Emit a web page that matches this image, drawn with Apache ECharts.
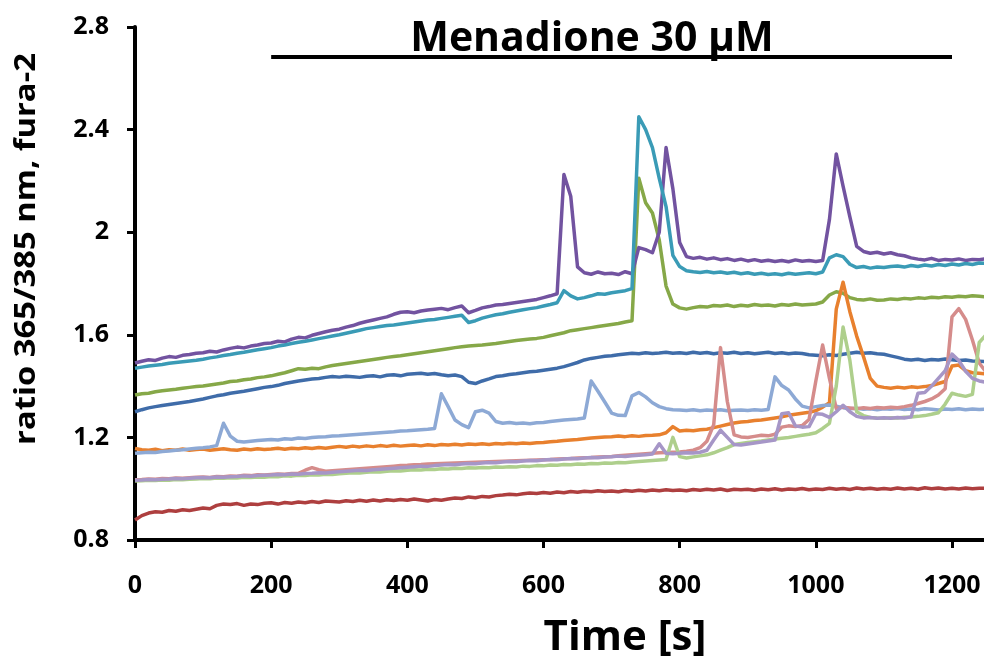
<!DOCTYPE html>
<html>
<head>
<meta charset="utf-8">
<script src="https://cdn.jsdelivr.net/npm/echarts@6/dist/echarts.min.js"></script>
<style>
html,body{margin:0;padding:0;background:#fff;}
#chart{width:984px;height:659px;}
</style>
</head>
<body>
<div id="chart"></div>
<script>
// sample times (s)
const time = [
0,10,20,30,40,50,60,70,80,90,
100,110,120,130,140,150,160,170,180,190,
200,210,220,230,240,250,260,270,280,290,
300,310,320,330,340,350,360,370,380,390,
400,410,420,430,440,450,460,470,480,490,
500,510,520,530,540,550,560,570,580,590,
600,610,620,630,640,650,660,670,680,690,
700,710,720,730,740,750,760,770,780,790,
800,810,820,830,840,850,860,870,880,890,
900,910,920,930,940,950,960,970,980,990,
1000,1010,1020,1030,1040,1050,1060,1070,1080,1090,
1100,1110,1120,1130,1140,1150,1160,1170,1180,1190,
1200,1210,1220,1230,1240,1250];

const darkBlue = [
1.300,1.308,1.315,1.320,1.324,1.328,1.332,1.336,1.340,1.345,
1.350,1.356,1.362,1.366,1.372,1.376,1.380,1.385,1.390,1.395,
1.398,1.403,1.410,1.415,1.420,1.424,1.428,1.430,1.434,1.437,
1.435,1.438,1.436,1.434,1.438,1.440,1.436,1.442,1.444,1.440,
1.446,1.448,1.450,1.446,1.449,1.444,1.440,1.443,1.437,1.415,
1.410,1.420,1.428,1.437,1.440,1.445,1.448,1.452,1.456,1.458,
1.462,1.466,1.470,1.476,1.484,1.492,1.502,1.508,1.512,1.516,
1.518,1.522,1.525,1.528,1.526,1.530,1.527,1.529,1.532,1.528,
1.530,1.527,1.532,1.528,1.531,1.526,1.530,1.528,1.532,1.527,
1.530,1.526,1.529,1.532,1.527,1.530,1.526,1.529,1.527,1.522,
1.520,1.518,1.522,1.519,1.524,1.528,1.532,1.528,1.530,1.526,
1.524,1.518,1.512,1.505,1.502,1.505,1.500,1.504,1.502,1.506,
1.503,1.500,1.502,1.498,1.497,1.495];

const darkRed = [
0.878,0.895,0.905,0.910,0.908,0.915,0.912,0.918,0.915,0.920,
0.925,0.922,0.935,0.940,0.938,0.942,0.935,0.940,0.938,0.943,
0.945,0.940,0.946,0.943,0.948,0.945,0.950,0.946,0.952,0.950,
0.948,0.953,0.950,0.955,0.951,0.956,0.952,0.957,0.954,0.958,
0.955,0.960,0.956,0.952,0.958,0.955,0.960,0.964,0.962,0.968,
0.965,0.970,0.968,0.973,0.975,0.978,0.976,0.980,0.983,0.981,
0.985,0.982,0.987,0.984,0.989,0.986,0.990,0.988,0.992,0.989,
0.991,0.988,0.993,0.990,0.994,0.991,0.995,0.992,0.996,0.993,
0.995,0.992,0.997,0.994,0.998,0.995,0.999,0.993,0.998,0.996,
0.998,0.994,0.999,0.996,1.000,0.995,0.999,0.997,1.001,0.996,
0.999,0.997,1.002,0.998,1.001,0.997,1.003,0.999,1.002,0.998,
1.001,0.998,1.003,0.999,1.002,0.998,1.004,1.000,1.003,0.999,
1.002,0.999,1.003,1.000,1.002,1.001];

const green = [
1.365,1.370,1.372,1.378,1.382,1.385,1.388,1.392,1.395,1.398,
1.400,1.404,1.408,1.412,1.418,1.420,1.425,1.428,1.433,1.436,
1.440,1.446,1.452,1.460,1.468,1.466,1.470,1.468,1.475,1.480,
1.484,1.488,1.492,1.496,1.500,1.504,1.508,1.512,1.515,1.518,
1.522,1.526,1.530,1.534,1.538,1.542,1.546,1.550,1.553,1.556,
1.558,1.560,1.563,1.566,1.570,1.574,1.578,1.581,1.584,1.586,
1.590,1.596,1.602,1.608,1.616,1.620,1.624,1.628,1.632,1.636,
1.640,1.644,1.650,1.655,2.210,2.115,2.075,1.970,1.790,1.720,
1.705,1.700,1.706,1.710,1.708,1.714,1.712,1.716,1.710,1.715,
1.712,1.718,1.714,1.716,1.712,1.718,1.715,1.720,1.716,1.718,
1.720,1.728,1.755,1.768,1.762,1.745,1.738,1.736,1.740,1.735,
1.736,1.740,1.738,1.742,1.740,1.744,1.742,1.746,1.744,1.748,
1.746,1.750,1.748,1.752,1.750,1.748];

const purple = [
1.490,1.497,1.503,1.500,1.509,1.515,1.512,1.520,1.523,1.528,
1.530,1.536,1.533,1.541,1.547,1.552,1.549,1.556,1.560,1.566,
1.568,1.575,1.572,1.583,1.590,1.588,1.598,1.605,1.612,1.618,
1.622,1.630,1.636,1.645,1.652,1.658,1.664,1.670,1.680,1.688,
1.690,1.686,1.693,1.697,1.700,1.703,1.698,1.706,1.712,1.686,
1.695,1.705,1.710,1.716,1.718,1.722,1.726,1.730,1.734,1.738,
1.745,1.752,1.760,2.225,2.140,1.865,1.842,1.836,1.845,1.838,
1.840,1.835,1.846,1.838,1.940,1.932,1.920,2.000,2.330,2.170,
1.960,1.905,1.898,1.902,1.895,1.900,1.893,1.897,1.890,1.895,
1.888,1.893,1.887,1.891,1.886,1.890,1.885,1.892,1.887,1.890,
1.886,1.890,2.050,2.305,2.180,2.060,1.945,1.925,1.918,1.922,
1.915,1.920,1.912,1.908,1.900,1.895,1.892,1.898,1.890,1.894,
1.892,1.896,1.890,1.894,1.893,1.896];

const teal = [
1.470,1.474,1.478,1.481,1.484,1.489,1.492,1.495,1.498,1.501,
1.505,1.510,1.514,1.519,1.523,1.528,1.532,1.537,1.542,1.546,
1.550,1.556,1.560,1.566,1.571,1.575,1.580,1.585,1.590,1.595,
1.600,1.606,1.612,1.618,1.624,1.628,1.632,1.636,1.638,1.642,
1.646,1.650,1.654,1.658,1.660,1.664,1.668,1.672,1.676,1.648,
1.655,1.665,1.672,1.678,1.682,1.688,1.693,1.698,1.702,1.706,
1.712,1.718,1.725,1.772,1.752,1.740,1.745,1.752,1.760,1.758,
1.764,1.768,1.772,1.780,2.450,2.400,2.330,2.210,2.100,1.910,
1.866,1.850,1.846,1.843,1.847,1.842,1.845,1.840,1.844,1.838,
1.842,1.836,1.840,1.835,1.838,1.834,1.840,1.836,1.839,1.842,
1.838,1.845,1.900,1.912,1.905,1.875,1.862,1.866,1.860,1.864,
1.862,1.866,1.868,1.864,1.870,1.866,1.872,1.868,1.874,1.870,
1.876,1.872,1.878,1.874,1.880,1.878];

const orange = [
1.157,1.152,1.150,1.154,1.148,1.152,1.150,1.155,1.150,1.153,
1.155,1.150,1.153,1.156,1.152,1.150,1.155,1.152,1.156,1.153,
1.155,1.158,1.154,1.158,1.156,1.160,1.157,1.161,1.158,1.162,
1.165,1.162,1.166,1.163,1.167,1.164,1.168,1.165,1.169,1.166,
1.168,1.170,1.167,1.171,1.168,1.172,1.170,1.173,1.170,1.174,
1.172,1.175,1.172,1.176,1.174,1.177,1.175,1.178,1.176,1.179,
1.180,1.183,1.185,1.188,1.190,1.192,1.195,1.198,1.200,1.202,
1.203,1.205,1.203,1.206,1.204,1.207,1.208,1.210,1.218,1.242,
1.225,1.228,1.226,1.230,1.232,1.238,1.244,1.250,1.256,1.260,
1.262,1.266,1.268,1.272,1.276,1.280,1.286,1.290,1.294,1.298,
1.304,1.318,1.335,1.700,1.805,1.690,1.595,1.515,1.430,1.400,
1.395,1.392,1.396,1.393,1.397,1.395,1.398,1.402,1.410,1.418,
1.478,1.482,1.460,1.452,1.450,1.448];

const lightBlue = [
1.138,1.140,1.142,1.141,1.145,1.147,1.150,1.152,1.155,1.158,
1.160,1.163,1.168,1.255,1.205,1.185,1.182,1.185,1.188,1.190,
1.192,1.190,1.195,1.193,1.198,1.196,1.200,1.202,1.203,1.205,
1.206,1.208,1.210,1.212,1.214,1.216,1.218,1.220,1.222,1.225,
1.226,1.228,1.230,1.232,1.235,1.370,1.320,1.268,1.250,1.238,
1.300,1.306,1.295,1.262,1.255,1.258,1.254,1.256,1.253,1.257,
1.258,1.262,1.265,1.268,1.270,1.272,1.276,1.420,1.380,1.338,
1.295,1.286,1.285,1.362,1.375,1.358,1.335,1.320,1.312,1.308,
1.307,1.305,1.308,1.304,1.307,1.305,1.308,1.304,1.306,1.307,
1.305,1.308,1.306,1.309,1.436,1.402,1.385,1.350,1.322,1.315,
1.320,1.324,1.326,1.322,1.316,1.312,1.314,1.310,1.312,1.308,
1.312,1.310,1.313,1.309,1.311,1.308,1.312,1.310,1.307,1.311,
1.309,1.312,1.308,1.311,1.309,1.310];

const pink = [
1.035,1.036,1.038,1.037,1.040,1.039,1.042,1.041,1.043,1.045,
1.046,1.044,1.048,1.047,1.050,1.049,1.052,1.051,1.054,1.053,
1.055,1.057,1.056,1.059,1.060,1.072,1.082,1.074,1.068,1.070,
1.072,1.074,1.076,1.078,1.080,1.082,1.084,1.086,1.088,1.090,
1.091,1.093,1.094,1.096,1.097,1.098,1.099,1.100,1.101,1.102,
1.103,1.104,1.105,1.106,1.107,1.108,1.109,1.110,1.111,1.112,
1.113,1.114,1.116,1.117,1.118,1.120,1.121,1.122,1.124,1.125,
1.126,1.128,1.130,1.132,1.134,1.136,1.138,1.140,1.141,1.142,
1.143,1.146,1.150,1.160,1.185,1.250,1.550,1.340,1.210,1.202,
1.200,1.204,1.208,1.206,1.212,1.240,1.245,1.242,1.246,1.270,
1.420,1.560,1.430,1.312,1.318,1.315,1.312,1.316,1.313,1.317,
1.315,1.318,1.316,1.320,1.325,1.332,1.340,1.350,1.365,1.390,
1.670,1.702,1.660,1.580,1.490,1.455];

const lightGreen = [
1.030,1.031,1.033,1.032,1.034,1.033,1.036,1.035,1.037,1.038,
1.040,1.039,1.042,1.041,1.043,1.042,1.045,1.044,1.046,1.045,
1.048,1.047,1.050,1.049,1.052,1.051,1.054,1.053,1.056,1.055,
1.058,1.060,1.062,1.061,1.064,1.066,1.065,1.068,1.070,1.069,
1.072,1.074,1.073,1.076,1.075,1.078,1.077,1.080,1.079,1.082,
1.081,1.083,1.082,1.085,1.084,1.086,1.085,1.088,1.087,1.090,
1.089,1.092,1.091,1.094,1.093,1.096,1.095,1.098,1.097,1.100,
1.099,1.102,1.101,1.104,1.106,1.108,1.110,1.112,1.114,1.200,
1.125,1.120,1.124,1.128,1.132,1.140,1.150,1.160,1.172,1.176,
1.180,1.183,1.186,1.190,1.194,1.197,1.200,1.204,1.208,1.212,
1.218,1.235,1.255,1.400,1.630,1.500,1.300,1.285,1.278,1.276,
1.275,1.277,1.276,1.279,1.280,1.282,1.285,1.290,1.296,1.330,
1.372,1.365,1.360,1.368,1.570,1.600];

const lavender = [
1.033,1.034,1.036,1.035,1.037,1.038,1.040,1.039,1.041,1.043,
1.044,1.043,1.046,1.045,1.047,1.048,1.050,1.049,1.051,1.052,
1.053,1.055,1.054,1.057,1.056,1.059,1.060,1.062,1.061,1.064,
1.066,1.068,1.070,1.072,1.071,1.074,1.076,1.078,1.080,1.082,
1.084,1.086,1.088,1.087,1.090,1.092,1.094,1.093,1.096,1.098,
1.097,1.100,1.102,1.101,1.104,1.106,1.105,1.108,1.110,1.109,
1.112,1.114,1.113,1.116,1.118,1.117,1.120,1.122,1.121,1.124,
1.125,1.127,1.126,1.128,1.130,1.132,1.135,1.175,1.138,1.136,
1.138,1.140,1.139,1.142,1.150,1.190,1.228,1.200,1.172,1.170,
1.174,1.178,1.182,1.186,1.190,1.292,1.296,1.245,1.240,1.242,
1.292,1.290,1.278,1.300,1.325,1.300,1.282,1.276,1.278,1.275,
1.277,1.275,1.278,1.276,1.280,1.372,1.375,1.400,1.430,1.460,
1.525,1.500,1.458,1.430,1.420,1.415];

// treatment bar (menadione application)
const barTimes = [200, 1200];
const barLevel = 2.683;

const xTicks = [0, 200, 400, 600, 800, 1000, 1200];
const yTicks = [0.8, 1.2, 1.6, 2.0, 2.4, 2.8];
const yTickLabels = ['0.8', '1.2', '1.6', '2', '2.4', '2.8'];

const traces = [
  {name: 'c1', values: darkBlue,   color: '#3F6CA9'},
  {name: 'c2', values: darkRed,    color: '#AE3F3F'},
  {name: 'c3', values: green,      color: '#86A848'},
  {name: 'c4', values: purple,     color: '#7253A0'},
  {name: 'c5', values: teal,       color: '#3A9BB6'},
  {name: 'c6', values: orange,     color: '#E8802E'},
  {name: 'c7', values: lightBlue,  color: '#8DA9D5'},
  {name: 'c8', values: pink,       color: '#D58C8B'},
  {name: 'c9', values: lightGreen, color: '#AECF8C'},
  {name: 'c10', values: lavender,  color: '#A696C7'}
];

const chart = echarts.init(document.getElementById('chart'), null, {renderer: 'canvas'});

const series = traces.map(tr => ({
  name: tr.name,
  type: 'line',
  showSymbol: false,
  symbol: 'none',
  data: time.map((t, i) => [t, tr.values[i]]),
  lineStyle: {color: tr.color, width: 3.5, join: 'round'},
  itemStyle: {color: tr.color},
  emphasis: {disabled: true},
  silent: true,
  clip: true
}));

series.push({
  name: 'bar',
  type: 'line',
  showSymbol: false,
  symbol: 'none',
  data: barTimes.map(t => [t, barLevel]),
  lineStyle: {color: '#000', width: 4},
  silent: true,
  z: 5
});

const FONT = '"Open Sans", "Liberation Sans", sans-serif';

chart.setOption({
  animation: false,
  backgroundColor: '#ffffff',
  grid: {left: 135, right: 0, top: 27, bottom: 119, containLabel: false},
  xAxis: {
    type: 'value',
    min: 0,
    max: 1247,
    interval: 200,
    axisLine: {show: true, lineStyle: {color: '#000', width: 4}},
    axisTick: {show: true, inside: false, length: 8, lineStyle: {color: '#000', width: 3}, customValues: xTicks},
    axisLabel: {
      show: true, margin: 33, color: '#000', fontFamily: FONT, fontWeight: 'bold', fontSize: 25,
      customValues: xTicks,
      formatter: v => String(v)
    },
    splitLine: {show: false}
  },
  yAxis: {
    type: 'value',
    min: 0.8,
    max: 2.8,
    interval: 0.4,
    axisLine: {show: true, lineStyle: {color: '#000', width: 4}},
    axisTick: {show: true, inside: false, length: 8, lineStyle: {color: '#000', width: 3}, customValues: yTicks},
    axisLabel: {
      show: true, margin: 26, color: '#000', fontFamily: FONT, fontWeight: 'bold', fontSize: 25,
      customValues: yTicks,
      formatter: v => {
        const i = yTicks.findIndex(t => Math.abs(t - v) < 1e-6);
        return i >= 0 ? yTickLabels[i] : '';
      }
    },
    splitLine: {show: false}
  },
  graphic: [
    {
      type: 'text',
      x: 592, y: 39,
      style: {
        text: 'Menadione 30 µM',
        fill: '#000',
        font: 'bold 41px ' + FONT,
        align: 'center',
        verticalAlign: 'middle'
      },
      silent: true
    },
    {
      type: 'text',
      x: 625, y: 638,
      style: {
        text: 'Time [s]',
        fill: '#000',
        font: 'bold 42px ' + FONT,
        align: 'center',
        verticalAlign: 'middle'
      },
      silent: true
    },
    {
      type: 'text',
      x: 27, y: 249,
      rotation: Math.PI / 2,
      scaleX: 1.17,
      style: {
        text: 'ratio 365/385 nm, fura-2',
        fill: '#000',
        font: 'bold 28px ' + FONT,
        align: 'center',
        verticalAlign: 'middle'
      },
      silent: true
    }
  ],
  series: series
});
</script>
</body>
</html>
